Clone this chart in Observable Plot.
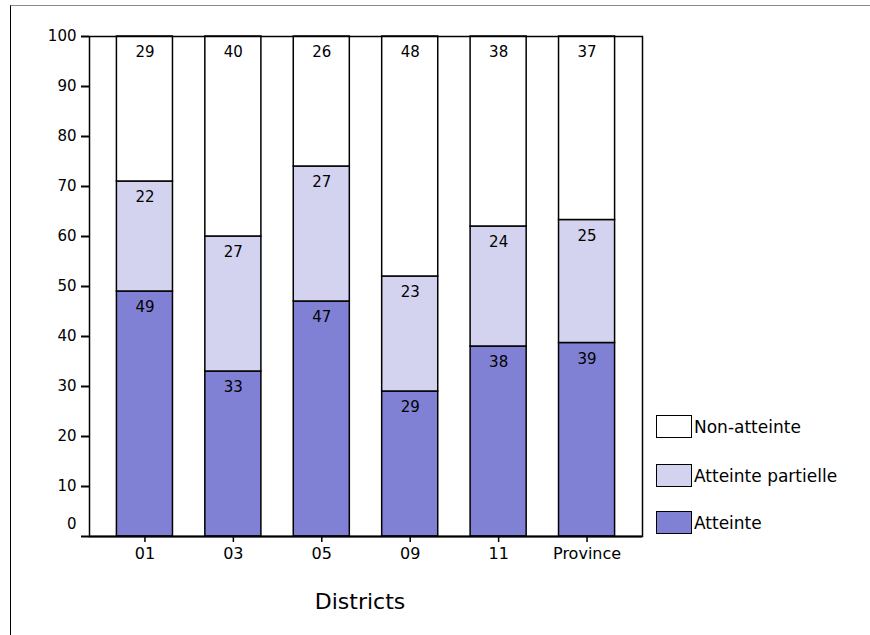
<!DOCTYPE html>
<html>
<head>
<meta charset="utf-8">
<script src="https://cdn.jsdelivr.net/npm/d3@7"></script>
<script src="https://cdn.jsdelivr.net/npm/@observablehq/plot@0.6"></script>
<style>
  html, body { margin: 0; padding: 0; background: #fff; }
  #wrap { position: relative; width: 870px; height: 635px; overflow: hidden; }
  #border { position: absolute; left: 10px; top: 5px; width: 880px; height: 660px;
            border-left: 1.5px solid #000; border-top: 1.5px solid #8a8a8a; }
  #chart { position: absolute; left: 0; top: 0; }
  .leg { position: absolute; left: 656px; font-family: "DejaVu Sans", sans-serif; font-size: 17px; color: #000; }
  .leg .box { position: absolute; left: 0; top: 0; width: 34px; height: 21px; border: 1.5px solid #000; }
  .leg .lab { position: absolute; left: 38px; top: 0; line-height: 24px; white-space: nowrap; }
</style>
</head>
<body>
<div id="wrap">
  <div id="border"></div>
  <div id="chart"></div>
  <div id="legend"></div>
</div>
<script>
const districts = ["01", "03", "05", "09", "11", "Province"];
const atteinte = [49, 33, 47, 29, 38, 38.7];
const partielle = [22, 27, 27, 23, 24, 24.6];
const nonAtteinte = [29, 40, 26, 48, 38, 36.7];
const seriesNames = ["Atteinte", "Atteinte partielle", "Non-atteinte"];
const seriesColors = ["#8080d4", "#d3d3f0", "#ffffff"];
const yTicks = [0, 10, 20, 30, 40, 50, 60, 70, 80, 90, 100];
const xLabel = "Districts";

const seriesValues = [atteinte, partielle, nonAtteinte];
const data = [];
districts.forEach((d, i) => {
  seriesNames.forEach((s, j) => {
    data.push({district: d, series: s, value: seriesValues[j][i]});
  });
});
const fmt = d3.format(".0f");

const chart = Plot.plot({
  width: 870,
  height: 635,
  marginLeft: 89,
  marginRight: 228,
  marginTop: 36,
  marginBottom: 99,
  style: {fontFamily: "DejaVu Sans, sans-serif", fontSize: "15px", color: "#000", background: "transparent"},
  x: {domain: districts, paddingInner: 0.366, paddingOuter: 0.31, round: false, label: null},
  y: {domain: [0, 100], label: null},
  color: {domain: seriesNames, range: seriesColors},
  marks: [
    Plot.barY(data, {x: "district", y: "value", fill: "series", z: "series", stroke: "#000", strokeWidth: 1.5}),
    Plot.text(data, Plot.stackY2({x: "district", y: "value", z: "series", text: d => fmt(d.value), dy: 16, fontSize: 15, fill: "#000"})),
    Plot.frame({stroke: "#000", strokeWidth: 1.5}),
    Plot.axisY({ticks: yTicks, tickSize: 8, tickPadding: 5, strokeWidth: 2, fontSize: 15, label: null,
                tickFormat: v => (v === 0 ? "" : String(v))}),
    Plot.text(yTicks.filter(v => v === 0), {y: d => d, text: d => String(d), frameAnchor: "left", textAnchor: "end",
                dx: -13, dy: -12, fontSize: 15, fill: "#000"}),
    Plot.axisX({tickSize: 6, tickPadding: 5, strokeWidth: 1.5, fontSize: 16, label: null}),
    Plot.ruleY([0], {strokeWidth: 2, stroke: "#000"}),
    Plot.text([xLabel], {frameAnchor: "bottom", dy: 72, dx: -6, fontSize: 22, fill: "#000"})
  ]
});
document.getElementById("chart").appendChild(chart);

const legendItems = [
  {name: "Non-atteinte", color: seriesColors[2], top: 415},
  {name: "Atteinte partielle", color: seriesColors[1], top: 464},
  {name: "Atteinte", color: seriesColors[0], top: 511}
];
const legend = document.getElementById("legend");
legendItems.forEach(it => {
  const div = document.createElement("div");
  div.className = "leg";
  div.style.top = it.top + "px";
  const box = document.createElement("div");
  box.className = "box";
  box.style.background = it.color;
  const lab = document.createElement("div");
  lab.className = "lab";
  lab.textContent = it.name;
  div.appendChild(box);
  div.appendChild(lab);
  legend.appendChild(div);
});
</script>
</body>
</html>
